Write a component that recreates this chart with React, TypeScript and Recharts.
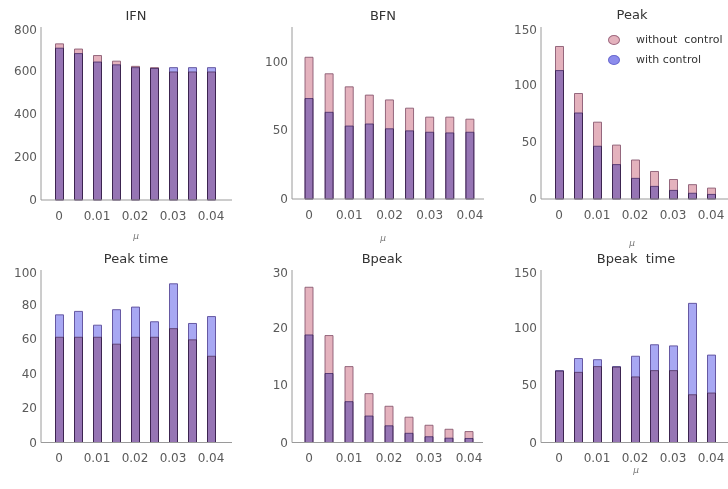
import React from 'react';
import { BarChart, Bar, XAxis, YAxis } from 'recharts';

const muValues = ['0', '0.005', '0.01', '0.015', '0.02', '0.025', '0.03', '0.035', '0.04'];

const ifnWithout = [722, 698, 668, 642, 618, 612, 592, 592, 592];
const ifnWith = [702, 677, 638, 625, 612, 608, 612, 612, 612];

const bfnWithout = [103, 91, 81.5, 75.5, 72, 66, 59.5, 59.5, 58];
const bfnWith = [73, 63, 53, 54.5, 51, 49.5, 48.5, 48, 48.5];

const peakWithout = [133, 92, 67, 47, 34, 24, 17, 12.5, 9.5];
const peakWith = [112, 75, 46, 30, 18, 11, 7.5, 5, 4];

const peakTimeWithout = [61, 61, 61, 57, 61, 61, 66, 59.5, 50];
const peakTimeWith = [74, 76, 68, 77, 78.5, 70, 92, 69, 73];

const bpeakWithout = [27, 18.6, 13.2, 8.5, 6.3, 4.4, 3, 2.3, 1.9];
const bpeakWith = [18.7, 12, 7.1, 4.6, 2.9, 1.6, 1, 0.75, 0.7];

const bpeakTimeWithout = [62, 61, 66, 65.5, 57, 62.5, 62.5, 41.5, 43];
const bpeakTimeWith = [62.5, 73, 72, 66, 75, 85, 84, 121, 76];

const FONT = '"DejaVu Sans", sans-serif';
const PINK = '#e4b2bd';
const BLUE = '#a8a8f3';

type PanelCfg = {
  title: string;
  titleX: number;
  titleY: number;
  x: number;
  y: number;
  w: number;
  h: number;
  padL: number;
  padR: number;
  domain: [number, number];
  ticks: number[];
  without: number[];
  withC: number[];
  muX?: number;
  muY?: number;
};

const panels: PanelCfg[] = [
  { title: 'IFN', titleX: 136, titleY: 15, x: 41, y: 27, w: 191, h: 173, padL: 8.5, padR: 11.5, domain: [0, 800], ticks: [0, 200, 400, 600, 800], without: ifnWithout, withC: ifnWith, muX: 136, muY: 236 },
  { title: 'BFN', titleX: 383, titleY: 15, x: 292, y: 27, w: 192, h: 172, padL: 7, padR: 4, domain: [0, 125], ticks: [0, 50, 100], without: bfnWithout, withC: bfnWith, muX: 383, muY: 238 },
  { title: 'Peak', titleX: 632, titleY: 14, x: 541, y: 27, w: 191, h: 172, padL: 8.5, padR: 11.5, domain: [0, 150], ticks: [0, 50, 100, 150], without: peakWithout, withC: peakWith, muX: 632, muY: 243 },
  { title: 'Peak time', titleX: 136, titleY: 258, x: 41, y: 269.5, w: 191, h: 172.5, padL: 8.5, padR: 11.5, domain: [0, 100], ticks: [0, 20, 40, 60, 80, 100], without: peakTimeWithout, withC: peakTimeWith },
  { title: 'Bpeak', titleX: 382, titleY: 258, x: 292, y: 269.5, w: 191, h: 172.5, padL: 7, padR: 4, domain: [0, 30], ticks: [0, 10, 20, 30], without: bpeakWithout, withC: bpeakWith },
  { title: 'Bpeak  time', titleX: 636, titleY: 258, x: 541, y: 269.5, w: 191, h: 172.5, padL: 8.5, padR: 11.5, domain: [0, 150], ticks: [0, 50, 100, 150], without: bpeakTimeWithout, withC: bpeakTimeWith, muX: 636, muY: 470 },
];

const ML = 45;
const MT = 5;
const XH = 30;

function Panel({ cfg }: { cfg: PanelCfg }) {
  const data = muValues.map((m, i) => ({ mu: m, without: cfg.without[i], withC: cfg.withC[i] }));
  return (
    <>
      <div style={{ position: 'absolute', left: cfg.x - ML, top: cfg.y - MT }}>
        <BarChart
          width={ML + cfg.w}
          height={MT + cfg.h + XH}
          data={data}
          margin={{ top: MT, right: 0, left: 0, bottom: 0 }}
          barSize={8}
          barGap={-8}
        >
          <XAxis
            dataKey="mu"
            interval={1}
            padding={{ left: cfg.padL, right: cfg.padR }}
            tickLine={false}
            tickSize={0}
            tickMargin={11}
            axisLine={{ stroke: '#9a9a9a' }}
            tick={{ fill: '#5a5a5a', fontSize: 12, fontFamily: FONT }}
            height={XH}
          />
          <YAxis
            width={ML}
            domain={cfg.domain}
            ticks={cfg.ticks}
            tickLine={false}
            tickSize={0}
            tickMargin={4}
            axisLine={{ stroke: '#9a9a9a' }}
            tick={{ fill: '#5a5a5a', fontSize: 12, fontFamily: FONT }}
          />
          <Bar dataKey="without" fill={PINK} stroke="#8a5a72" strokeWidth={0.9} isAnimationActive={false} />
          <Bar dataKey="withC" className="withCtl" fill={BLUE} stroke="#5a4c9a" strokeWidth={0.9} isAnimationActive={false} />
        </BarChart>
      </div>
      <div
        style={{
          position: 'absolute',
          left: cfg.titleX,
          top: cfg.titleY,
          transform: 'translate(-50%, -50%)',
          fontFamily: FONT,
          fontSize: 13,
          color: '#333',
          whiteSpace: 'pre',
        }}
      >
        {cfg.title}
      </div>
      {cfg.muX !== undefined && (
        <div
          style={{
            position: 'absolute',
            left: cfg.muX,
            top: cfg.muY,
            transform: 'translate(-50%, -50%)',
            fontFamily: FONT,
            fontSize: 9,
            fontStyle: 'italic',
            color: '#777',
          }}
        >
          μ
        </div>
      )}
    </>
  );
}

const legendItems = [
  { label: 'without  control', color: PINK, border: '#a06a80', y: 39 },
  { label: 'with control', color: '#8c8cec', border: '#6a6ad0', y: 59 },
];

export default function App() {
  return (
    <div style={{ position: 'absolute', left: 0, top: 0, width: 728, height: 489, overflow: 'hidden', background: '#fff' }}>
      <style>{`.withCtl { mix-blend-mode: multiply; }`}</style>
      {panels.map((p) => (
        <Panel key={p.title} cfg={p} />
      ))}
      {legendItems.map((it) => (
        <React.Fragment key={it.label}>
          <div
            style={{
              position: 'absolute',
              left: 608,
              top: it.y - 4.5,
              width: 10,
              height: 8,
              borderRadius: '50%',
              background: it.color,
              border: `1px solid ${it.border}`,
            }}
          />
          <div
            style={{
              position: 'absolute',
              left: 636,
              top: it.y,
              transform: 'translateY(-50%)',
              fontFamily: FONT,
              fontSize: 11,
              color: '#333',
              whiteSpace: 'pre',
            }}
          >
            {it.label}
          </div>
        </React.Fragment>
      ))}
    </div>
  );
}
